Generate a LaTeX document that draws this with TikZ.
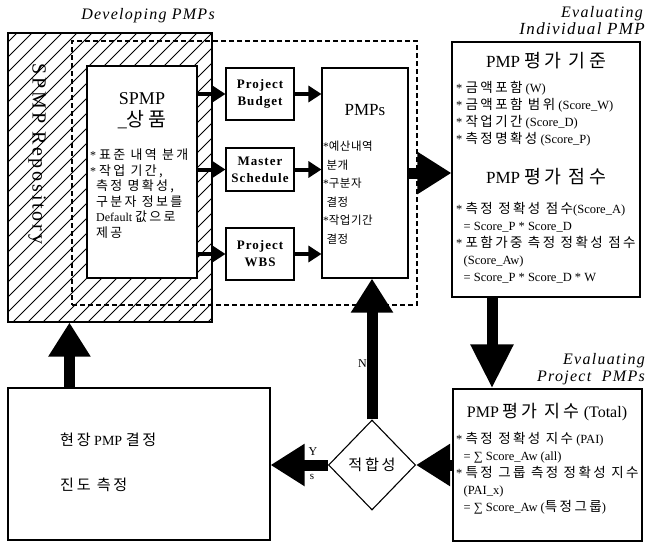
\documentclass[tikz,border=0pt]{standalone}
\usepackage{fontspec}
\setmainfont{Liberation Serif}
\newfontfamily\kr[Scale=1.08,LetterSpace=18]{Noto Sans CJK KR}
\newfontfamily\krn[LetterSpace=4]{Noto Sans CJK KR}
\newfontfamily\ttl[LetterSpace=8]{Liberation Serif}
\newfontfamily\rep[LetterSpace=14]{Liberation Serif}
\usetikzlibrary{arrows.meta,shapes.geometric}
\begin{document}
\begin{tikzpicture}[x=1pt,y=-1pt,
  box/.style={draw, line width=1.1pt, fill=white, inner sep=0pt},
  big/.style={line width=11pt, -{Triangle[length=34pt,width=40pt]}},
  small/.style={line width=4pt, -{Triangle[length=13pt,width=16pt]}},
  txt/.style={anchor=north west, align=left, inner sep=0pt, font=\fontsize{12.5}{17}\selectfont},
  ttlnode/.style={inner sep=0pt, font=\fontsize{16}{17}\selectfont\ttl\itshape},
  lbl/.style={inner sep=0pt, align=center, font=\fontsize{13}{17}\selectfont\ttl\bfseries}]
\useasboundingbox (0,0) rectangle (648,547);
\fill[white] (0,0) rectangle (648,547);

% SPMP repository (hatched)
\begin{scope}
  \clip (8,33) rectangle (212,322);
  \foreach \c in {20,35,...,580} \draw[line width=0.8pt] (\c,0) -- ++(-420,420);
\end{scope}
\node[draw, line width=1.1pt, minimum width=204, minimum height=289, inner sep=0pt] (repo) at (110,177.5) {};
\node[rotate=-90, inner sep=0pt, font=\fontsize{20}{22}\selectfont\rep] (repoT) at (37,154) {SPMP Repository};

% dashed developing area
\node[draw, dash pattern=on 5pt off 3pt, line width=1.3pt, minimum width=345, minimum height=264, inner sep=0pt] (dev) at (244.5,173) {};
\node[ttlnode, anchor=base] (devT) at (148,19) {Developing PMPs};

% SPMP box
\node[box, minimum width=110, minimum height=212] (spmp) at (142,172) {};
\node[inner sep=0pt, align=center, font=\fontsize{18}{22}\selectfont] (spmpT) at (142,111) {SPMP\\\_{\kr 상품}};
\node[txt, font=\fontsize{12}{15.5}\selectfont] (spmpB) at (90,149) {* {\kr 표준 내역 분개}\\* {\kr 작업 기간,}\\\hspace*{0.5em}{\kr 측정 명확성,}\\\hspace*{0.5em}{\kr 구분자 정보를}\\\hspace*{0.5em}Default {\kr 값으로}\\\hspace*{0.5em}{\kr 제공}};

% middle boxes
\node[box, minimum width=68, minimum height=52, lbl] (pb) at (260,94) {Project\\Budget};
\node[box, minimum width=68, minimum height=43, lbl] (ms) at (260,169.5) {Master\\Schedule};
\node[box, minimum width=68, minimum height=52, lbl] (wbs) at (260,254) {Project\\WBS};

% PMPs box
\node[box, minimum width=86, minimum height=210] (pmps) at (365,173) {};
\node[inner sep=0pt, font=\fontsize{17}{20}\selectfont] (pmpsT) at (365,110) {PMPs};
\node[txt, font=\fontsize{11.5}{18.5}\selectfont] (pmpsB) at (323,141) {*{\krn 예산내역}\\\hspace*{0.3em}{\krn 분개}\\*{\krn 구분자}\\\hspace*{0.3em}{\krn 결정}\\*{\krn 작업기간}\\\hspace*{0.3em}{\krn 결정}};

% small arrows
\draw[small] (spmp.east |- pb.west) -- (pb.west);
\draw[small] (spmp.east |- ms.west) -- (ms.west);
\draw[small] (spmp.east |- wbs.west) -- (wbs.west);
\draw[small] (pb.east) -- (pb.east -| pmps.west);
\draw[small] (ms.east) -- (ms.east -| pmps.west);
\draw[small] (wbs.east) -- (wbs.east -| pmps.west);

% Evaluating individual PMP
\node[ttlnode, anchor=base east] (ev1a) at (643,17) {Evaluating};
\node[ttlnode, anchor=base east, font=\fontsize{17}{17}\selectfont\ttl\itshape] (ev1b) at (645,34) {Individual PMP};
\node[box, minimum width=188, minimum height=255] (eval) at (546,169.5) {};
\node[inner sep=0pt, font=\fontsize{17}{18}\selectfont] (evalT1) at (546,61) {PMP {\kr 평가 기준}};
\node[txt] (evalB1) at (456,81) {* {\kr 금액포함} (W)\\* {\kr 금액포함 범위} (Score\_W)\\* {\kr 작업기간} (Score\_D)\\* {\kr 측정명확성} (Score\_P)};
\node[inner sep=0pt, font=\fontsize{17}{18}\selectfont] (evalT2) at (546,177) {PMP {\kr 평가 점수}};
\node[txt] (evalB2) at (456,202) {* {\kr 측정 정확성 점수}(Score\_A)\\\hspace*{0.6em}= Score\_P * Score\_D\\* {\kr 포함가중 측정 정확성 점수}\\\hspace*{0.6em}(Score\_Aw)\\\hspace*{0.6em}= Score\_P * Score\_D * W};

% Evaluating project PMPs
\node[ttlnode, anchor=base east] (ev2a) at (645,364) {Evaluating};
\node[ttlnode, anchor=base east] (ev2b) at (645,381) {Project\ \ PMPs};
\node[box, minimum width=189, minimum height=152] (proj) at (547.5,465) {};
\node[inner sep=0pt, font=\fontsize{16}{18}\selectfont] (projT) at (547,412) {PMP {\kr 평가 지수} (Total)};
\node[txt] (projB) at (456,432) {* {\kr 측정 정확성 지수} (PAI)\\\hspace*{0.6em}= ∑ Score\_Aw (all)\\* {\kr 특정 그룹 측정 정확성 지수}\\\hspace*{0.6em}(PAI\_x)\\\hspace*{0.6em}= ∑ Score\_Aw ({\kr 특정그룹})};

% site box
\node[box, minimum width=262, minimum height=152] (site) at (139,464) {};
\node[inner sep=0pt, anchor=west, font=\fontsize{14}{16}\selectfont] (siteA) at (60,440) {{\kr 현장} PMP {\kr 결정}};
\node[inner sep=0pt, anchor=west, font=\fontsize{14}{16}\selectfont] (siteB) at (60,485) {{\kr 진도 측정}};

% decision
\node[diamond, draw, line width=1.1pt, fill=white, minimum width=87, minimum height=90, inner sep=0pt, font=\fontsize{14}{16}\selectfont] (dia) at (372,465) {{\kr 적합성}};

% labels
\node[inner sep=0pt, anchor=base west, font=\fontsize{12}{13}\selectfont] (noL) at (358,367) {No};
\node[inner sep=0pt, font=\fontsize{12}{13}\selectfont] (yL) at (313,452) {Y};
\node[inner sep=0pt, font=\fontsize{11}{13}\selectfont] (sL) at (312,477) {s};

% big arrows
\draw[big] (pmps.east) -- (pmps.east -| eval.west);
\draw[big, -{Triangle[length=44pt,width=40pt]}] ([xshift=-54pt]eval.south) -- ([xshift=-54pt]eval.south |- proj.north);
\draw[big] (proj.west |- dia.east) -- (dia.east);
\draw[big] (dia.west) -- (dia.west -| site.east);
\draw[big] (dia.north) -- (dia.north |- pmps.south);
\draw[big] ([xshift=62pt]site.north west) -- ([xshift=62pt]site.north west |- repo.south);
\end{tikzpicture}
\end{document}
